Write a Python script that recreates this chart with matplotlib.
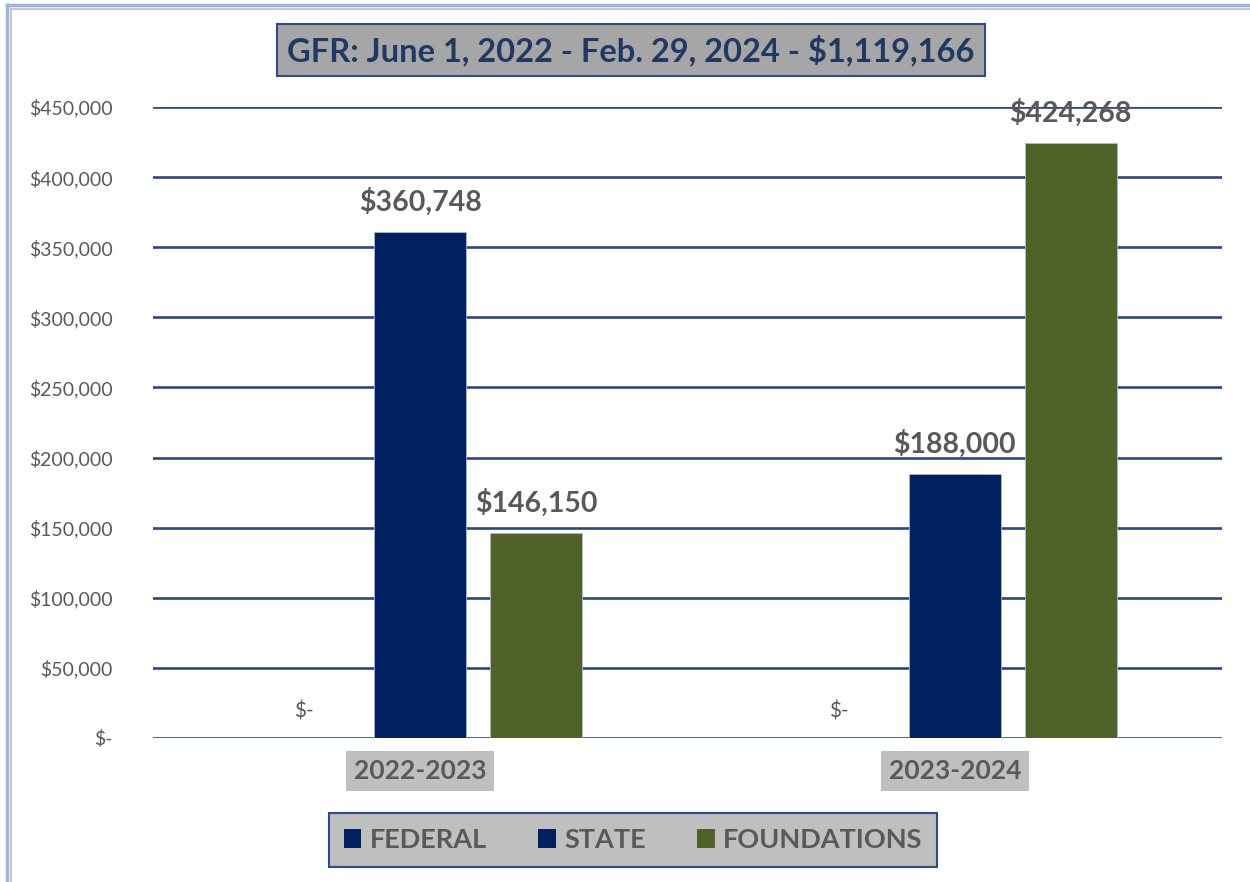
import numpy as np
import matplotlib.pyplot as plt
from matplotlib.lines import Line2D
from matplotlib.patches import Patch
from matplotlib.ticker import FuncFormatter

plt.rcParams['font.family'] = ['Lato', 'DejaVu Sans']

categories = ["2022-2023", "2023-2024"]
series_names = ["FEDERAL", "STATE", "FOUNDATIONS"]
federal = [0, 0]
state = [360748, 188000]
foundations = [146150, 424268]
title = "GFR: June 1, 2022 - Feb. 29, 2024 - $1,119,166"

navy = "#002060"
olive = "#4F6228"
grid_col = "#2A4683"
text_gray = "#595959"

fig = plt.figure(figsize=(12.5, 8.82), dpi=100)
ax = fig.add_axes([0.1224, 0.1633, 0.8552, 0.7154])

x = np.arange(len(categories))
offset = 0.217
width = 0.172

series = [federal, state, foundations]
colors = [navy, navy, olive]
for i, (vals, col) in enumerate(zip(series, colors)):
    pos = x + (i - 1) * offset
    bars = ax.bar(pos, vals, width, color=col, edgecolor="#A9B9D6", linewidth=0.6, zorder=3)
    for p, v in zip(pos, vals):
        if v == 0:
            ax.annotate("$-", (p, 0), xytext=(0, 12), textcoords="offset points",
                        ha="center", va="bottom", fontsize=15, color=text_gray,
                        annotation_clip=False)
        else:
            ax.annotate(f"${v:,}", (p, v), xytext=(0, 12), textcoords="offset points",
                        ha="center", va="bottom", fontsize=20.5, fontweight="bold",
                        color=text_gray, zorder=5, annotation_clip=False)

ax.set_xlim(-0.5, 1.5)
ax.set_ylim(0, 450000)
ax.set_yticks(np.arange(0, 450001, 50000))
ax.yaxis.set_major_formatter(FuncFormatter(lambda v, _: "$-" if v == 0 else f"${int(v):,}"))
ax.tick_params(axis="y", length=0, labelsize=14, labelcolor=text_gray, pad=29)
ax.grid(axis="y", color=grid_col, linewidth=1.9, zorder=1)
ax.set_axisbelow(True)
for s in ax.spines.values():
    s.set_visible(False)
ax.set_xticks(x)
ax.set_xticklabels(categories)
ax.tick_params(axis="x", length=0, labelsize=19, labelcolor=text_gray, pad=15)
for lab in ax.get_xticklabels():
    lab.set_fontweight("bold")
    lab.set_bbox(dict(boxstyle="square,pad=0.3", facecolor="#BFBFBF", edgecolor="none"))

fig.text(0.5048, 0.9433, title, ha="center", va="center", fontsize=23.5,
         fontweight="bold", color="#1F3864",
         bbox=dict(boxstyle="square,pad=0.3", facecolor="#A6A6A6",
                   edgecolor="#2F4A8A", linewidth=1.5))

handles = [Patch(facecolor=c, edgecolor="none") for c in colors]
leg = fig.legend(handles, series_names, loc="center", bbox_to_anchor=(0.5064, 0.0476),
                 ncol=3, frameon=True, fontsize=19.5, handlelength=0.65, handleheight=0.65,
                 columnspacing=1.9, handletextpad=0.3, borderpad=0.55, fancybox=False)
leg.get_frame().set_facecolor("#BFBFBF")
leg.get_frame().set_edgecolor("#2F4A8A")
leg.get_frame().set_linewidth(1.5)
leg.get_frame().set_alpha(None)
for t in leg.get_texts():
    t.set_color(text_gray)
    t.set_fontweight("bold")

# outer chart border (light blue + gray)
fig.add_artist(Line2D([7 / 1250, 7 / 1250], [0, 1 - 5 / 882], color="#9DB5E6", linewidth=2.5))
fig.add_artist(Line2D([7 / 1250, 1], [1 - 5 / 882, 1 - 5 / 882], color="#9DB5E6", linewidth=2.5))
fig.add_artist(Line2D([10.5 / 1250, 10.5 / 1250], [0, 1 - 8.5 / 882], color="#C8C8C8", linewidth=1.5))
fig.add_artist(Line2D([10.5 / 1250, 1], [1 - 8.5 / 882, 1 - 8.5 / 882], color="#C8C8C8", linewidth=1.5))

fig.savefig("out.png", dpi=100)
